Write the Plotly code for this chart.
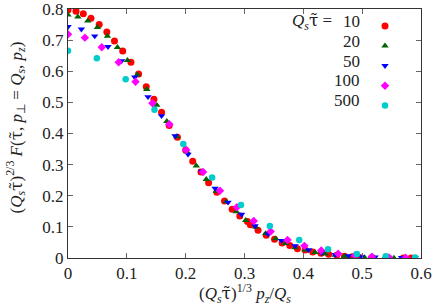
import plotly.graph_objects as go

# Q_s tau = 10
x10 = [0.000, 0.0136, 0.026, 0.039, 0.053, 0.066, 0.079, 0.093, 0.107, 0.120, 0.133, 0.146,
       0.159, 0.172, 0.186, 0.200, 0.212, 0.226, 0.239, 0.253, 0.266, 0.279, 0.292, 0.305,
       0.310, 0.323, 0.337, 0.351, 0.364, 0.377, 0.390, 0.403, 0.416, 0.430, 0.443, 0.457,
       0.470, 0.483, 0.496, 0.516, 0.543, 0.570, 0.583]
y10 = [0.797, 0.793, 0.785, 0.770, 0.750, 0.726, 0.697, 0.665, 0.629, 0.591, 0.550, 0.510,
       0.468, 0.426, 0.388, 0.347, 0.311, 0.276, 0.242, 0.211, 0.183, 0.157, 0.135, 0.117,
       0.107, 0.089, 0.073, 0.060, 0.048, 0.040, 0.030, 0.026, 0.019, 0.015, 0.012, 0.009,
       0.006, 0.004, 0.002, 0.001, 0.000, 0.000, 0.000]

# Q_s tau = 20
x20 = [0.000, 0.0168, 0.0336, 0.050, 0.067, 0.084, 0.101, 0.118, 0.134, 0.151, 0.168, 0.185,
       0.202, 0.218, 0.235, 0.252, 0.269, 0.286, 0.302, 0.319, 0.336, 0.353, 0.370, 0.386,
       0.403, 0.420, 0.437, 0.454, 0.470, 0.487, 0.504, 0.521, 0.538, 0.554, 0.571, 0.588]
y20 = [0.781, 0.775, 0.762, 0.741, 0.713, 0.677, 0.635, 0.589, 0.542, 0.491, 0.439, 0.390,
       0.342, 0.296, 0.253, 0.215, 0.181, 0.149, 0.121, 0.099, 0.079, 0.062, 0.047, 0.033,
       0.026, 0.018, 0.013, 0.009, 0.006, 0.004, 0.002, 0.001, 0.001, 0.000, 0.000, 0.000]

# Q_s tau = 50
x50 = [0.000, 0.0227, 0.0454, 0.068, 0.091, 0.1135, 0.136, 0.159, 0.182, 0.204, 0.227, 0.250,
       0.272, 0.295, 0.318, 0.340, 0.363, 0.386, 0.409, 0.431, 0.454, 0.477, 0.499, 0.522,
       0.545, 0.567, 0.590]
y50 = [0.743, 0.735, 0.713, 0.679, 0.633, 0.581, 0.518, 0.457, 0.392, 0.333, 0.278, 0.224,
       0.179, 0.140, 0.103, 0.077, 0.056, 0.039, 0.026, 0.017, 0.011, 0.007, 0.004, 0.003,
       0.002, 0.001, 0.001]

# Q_s tau = 100
x100 = [0.000, 0.0287, 0.0574, 0.0861, 0.1148, 0.1435, 0.1722, 0.2009, 0.2296, 0.2583, 0.287,
        0.3157, 0.3444, 0.3731, 0.4018, 0.4305, 0.4592, 0.4879, 0.5166, 0.5453, 0.574]
y100 = [0.719, 0.708, 0.677, 0.629, 0.566, 0.497, 0.430, 0.347, 0.276, 0.216, 0.163,
        0.119, 0.085, 0.058, 0.039, 0.024, 0.014, 0.008, 0.004, 0.002, 0.001]

# Q_s tau = 500
x500 = [0.000, 0.049, 0.098, 0.147, 0.196, 0.245, 0.294, 0.343, 0.393, 0.442, 0.491, 0.540, 0.590]
y500 = [0.666, 0.642, 0.574, 0.476, 0.366, 0.259, 0.170, 0.103, 0.058, 0.028, 0.013, 0.006, 0.002]

labels = ["10", "20", "50", "100", "500"]
xticks = [0, 0.1, 0.2, 0.3, 0.4, 0.5, 0.6]
yticks = [0, 0.1, 0.2, 0.3, 0.4, 0.5, 0.6, 0.7, 0.8]

series = [(x10, y10), (x20, y20), (x50, y50), (x100, y100), (x500, y500)]
colors = ["#ff0000", "#006400", "#0000ff", "#ff00ff", "#00cccc"]
symbols = ["circle", "triangle-up", "triangle-down", "diamond", "circle"]
sizes = [7, 6.5, 6.5, 6.5, 6.5]

FONT = "Liberation Serif"
TAU = '<span style="font-family:DejaVu Serif">τ̃</span>'
QS = "<i>Q<sub>s</sub></i>"
TXT = "#222222"

fig = go.Figure()
for (xs, ys), c, s, sz, lab in zip(series, colors, symbols, sizes, labels):
    fig.add_trace(go.Scatter(x=xs, y=ys, mode="markers", name=" ",
                             marker=dict(color=c, symbol=s, size=sz, line=dict(width=0)),
                             showlegend=True))

axis_common = dict(showline=True, linecolor="#333333", linewidth=1, mirror="ticks",
                   ticks="inside", ticklen=5, tickcolor="#666666", showgrid=False,
                   zeroline=False, automargin=False, ticklabeloverflow="allow",
                   tickfont=dict(family=FONT, size=17, color=TXT))
fig.update_xaxes(range=[0, 0.6], tickvals=xticks, ticktext=[f"{v:g}" for v in xticks],
                 **axis_common)
fig.update_yaxes(range=[0, 0.8], tickvals=yticks, ticktext=[f"{v:g}" for v in yticks],
                 **axis_common)

PW, PH, L, B = 353, 249, 68, 258
ann = []
# axis titles
ann.append(dict(x=0.5, y=(B - 293) / PH, xref="paper", yref="paper",
                text=f"({QS}{TAU})<sup>1/3</sup> <i>p<sub>z</sub></i>/{QS}",
                showarrow=False, xanchor="center", yanchor="middle",
                font=dict(family=FONT, size=17, color=TXT)))
ann.append(dict(x=(2 - L) / PW, y=(B - 128) / PH, xref="paper", yref="paper",
                text=f"({QS}{TAU})<sup>2/3</sup> <i>F</i>({TAU}, <i>p</i><sub>⊥</sub> = {QS}, <i>p<sub>z</sub></i>)",
                showarrow=False, xanchor="left", yanchor="middle", textangle=-90,
                font=dict(family=FONT, size=17, color=TXT)))

# legend labels (text left of markers, as in reference)
row_py = [22, 41, 61, 80, 100]
for lab, py in zip(labels, row_py):
    ann.append(dict(x=(362 - L) / PW, y=(B - py) / PH, xref="paper", yref="paper",
                    text=lab, showarrow=False, xanchor="right", yanchor="middle",
                    font=dict(family=FONT, size=17, color=TXT)))
ann.append(dict(x=(334 - L) / PW, y=(B - row_py[0]) / PH, xref="paper", yref="paper",
                text=f"{QS}{TAU} =", showarrow=False, xanchor="right", yanchor="middle",
                font=dict(family=FONT, size=17, color=TXT)))

fig.update_layout(
    width=436, height=305,
    margin=dict(l=68, r=15, t=9, b=47),
    paper_bgcolor="white", plot_bgcolor="white",
    annotations=ann,
    legend=dict(x=(365 - L) / PW, y=(B - 11) / PH, xanchor="left", yanchor="top",
                bgcolor="rgba(0,0,0,0)", font=dict(family=FONT, size=13),
                itemwidth=30, tracegroupgap=0),
)
fig.write_html("out.html", config={"displayModeBar": False},
               post_script="document.body.style.margin='0';document.body.style.overflow='hidden';")
